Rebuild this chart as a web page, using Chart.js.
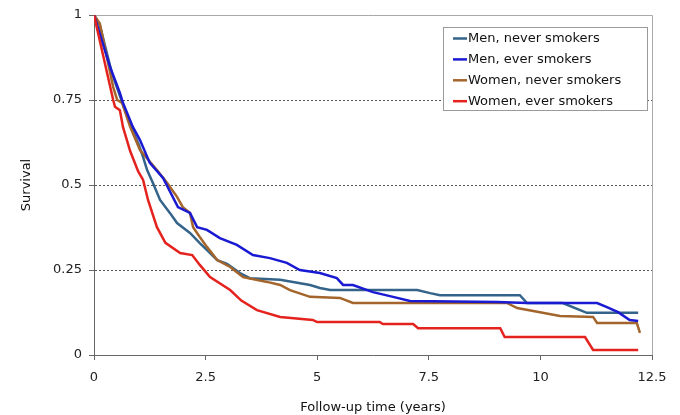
<!DOCTYPE html>
<html>
<head>
<meta charset="utf-8">
<script src="https://cdn.jsdelivr.net/npm/chart.js@4/dist/chart.umd.min.js"></script>
<style>
html,body{margin:0;padding:0;background:#fff;}
canvas{display:block;}
</style>
</head>
<body>
<canvas id="c" width="680" height="415"></canvas>
<script>
// ---- Data ----
const seriesLabels = ["Men, never smokers", "Men, ever smokers", "Women, never smokers", "Women, ever smokers"];
const seriesColors = ["#34648a", "#1a1ad2", "#a4652c", "#e4221e"];

const menNeverX = [0, 0.13, 0.4, 0.6, 0.85, 1.0, 1.10, 1.19, 1.32, 1.48, 1.70, 1.86, 2.15, 2.37, 2.6, 2.76, 2.98, 3.27, 3.49, 4.17, 4.84, 5.06, 5.29, 7.24, 7.53, 7.75, 9.54, 9.7, 10.5, 10.89, 11.04, 12.19];
const menNeverY = [1, 0.97, 0.83, 0.755, 0.665, 0.62, 0.582, 0.544, 0.506, 0.456, 0.418, 0.388, 0.359, 0.329, 0.30, 0.279, 0.268, 0.241, 0.226, 0.221, 0.206, 0.197, 0.191, 0.191, 0.182, 0.176, 0.176, 0.153, 0.153, 0.132, 0.124, 0.124];

const menEverX = [0, 0.36, 0.58, 0.65, 0.87, 1.03, 1.25, 1.55, 1.88, 2.15, 2.31, 2.53, 2.82, 3.2, 3.56, 3.94, 4.32, 4.61, 5.06, 5.44, 5.58, 5.8, 6.25, 6.7, 7.08, 9.03, 9.7, 11.27, 11.49, 11.74, 12.0, 12.19];
const menEverY = [1, 0.847, 0.771, 0.741, 0.671, 0.632, 0.565, 0.52, 0.435, 0.418, 0.376, 0.368, 0.344, 0.324, 0.294, 0.285, 0.271, 0.25, 0.241, 0.226, 0.206, 0.206, 0.185, 0.171, 0.159, 0.156, 0.153, 0.153, 0.141, 0.126, 0.103, 0.10];

const womenNeverX = [0, 0.13, 0.43, 0.52, 0.63, 0.81, 1.03, 1.41, 1.64, 1.86, 1.99, 2.15, 2.22, 2.37, 2.53, 2.76, 3.05, 3.34, 3.88, 4.17, 4.39, 4.84, 5.51, 5.8, 9.25, 9.48, 10.44, 11.18, 11.27, 12.16, 12.23];
const womenNeverY = [1, 0.975, 0.788, 0.75, 0.741, 0.671, 0.603, 0.544, 0.506, 0.465, 0.435, 0.418, 0.376, 0.347, 0.318, 0.279, 0.259, 0.229, 0.215, 0.206, 0.191, 0.171, 0.168, 0.153, 0.153, 0.138, 0.115, 0.112, 0.094, 0.094, 0.065];

const womenEverX = [0, 0.43, 0.47, 0.58, 0.65, 0.81, 0.99, 1.10, 1.21, 1.41, 1.6, 1.93, 2.2, 2.37, 2.6, 3.05, 3.3, 3.65, 4.17, 4.9, 5.0, 6.4, 6.47, 7.15, 7.26, 9.1, 9.2, 11.0, 11.18, 12.19];
const womenEverY = [1, 0.75, 0.73, 0.72, 0.67, 0.60, 0.54, 0.515, 0.456, 0.376, 0.33, 0.30, 0.294, 0.265, 0.229, 0.191, 0.16, 0.132, 0.112, 0.103, 0.097, 0.097, 0.091, 0.091, 0.079, 0.079, 0.053, 0.053, 0.015, 0.015];

const xTickLabels = ["0", "2.5", "5", "7.5", "10", "12.5"];
const yTickLabels = ["0", "0.25", "0.5", "0.75", "1"];
const xTickStep = 2.5, yTickStep = 0.25;

// ---- Build datasets ----
function pts(xs, ys){ return xs.map((x,i)=>({x:x, y:ys[i]})); }
const allX = [menNeverX, menEverX, womenNeverX, womenEverX];
const allY = [menNeverY, menEverY, womenNeverY, womenEverY];
const drawOrder = [3, 1, 2, 0];
const datasets = seriesLabels.map((lab,i)=>({
  label: lab,
  data: pts(allX[i], allY[i]),
  borderColor: seriesColors[i],
  backgroundColor: seriesColors[i],
  borderWidth: 2.5,
  pointRadius: 0,
  tension: 0,
  fill: false,
  order: drawOrder[i]
}));

const FONT = "'DejaVu Sans', 'Liberation Sans', Arial, sans-serif";

const framePlugin = {
  id: 'frame',
  beforeDatasetsDraw(chart){
    const {ctx, chartArea:a} = chart;
    ctx.save();
    ctx.strokeStyle = '#a8a8a8';
    ctx.lineWidth = 1;
    ctx.beginPath();
    ctx.moveTo(a.left, a.top + 0.5);
    ctx.lineTo(a.right + 0.5, a.top + 0.5);
    ctx.lineTo(a.right + 0.5, a.bottom);
    ctx.stroke();
    ctx.restore();
  }
};

const legendPlugin = {
  id: 'customLegend',
  afterDraw(chart){
    const ctx = chart.ctx;
    const bx = 443.5, by = 27.5, bw = 204, bh = 83;
    ctx.save();
    ctx.fillStyle = '#fff';
    ctx.fillRect(bx, by, bw, bh);
    ctx.strokeStyle = '#9a9a9a';
    ctx.lineWidth = 1;
    ctx.strokeRect(bx, by, bw, bh);
    ctx.font = '13px ' + FONT;
    ctx.textBaseline = 'middle';
    ctx.textAlign = 'left';
    chart.data.datasets.forEach((ds, i)=>{
      const y = 38.5 + i * 20.9;
      ctx.strokeStyle = ds.borderColor;
      ctx.lineWidth = 2.5;
      ctx.beginPath();
      ctx.moveTo(453, y);
      ctx.lineTo(467, y);
      ctx.stroke();
      ctx.fillStyle = '#111';
      ctx.fillText(ds.label, 468, y + 0.5);
    });
    ctx.restore();
  }
};

new Chart(document.getElementById('c'), {
  type: 'line',
  data: { datasets: datasets },
  options: {
    responsive: false,
    animation: false,
    layout: { padding: { left: 0, right: 28, top: 15, bottom: 0 } },
    plugins: { legend: { display: false }, tooltip: { enabled: false } },
    scales: {
      x: {
        type: 'linear',
        min: 0, max: 12.5,
        afterFit(s){ s.height = 60; },
        ticks: {
          stepSize: xTickStep,
          padding: 10,
          color: '#222',
          font: { family: FONT, size: 13 },
          maxRotation: 0,
          callback(v){ const i = Math.round(v / xTickStep); return xTickLabels[i] ?? ''; }
        },
        grid: { drawOnChartArea: false, drawTicks: true, tickLength: 5, tickColor: '#666' },
        border: { display: true, color: '#666', width: 1 },
        title: { display: true, text: 'Follow-up time (years)', color: '#111', font: { family: FONT, size: 13 }, padding: { top: 0, bottom: 0 } }
      },
      y: {
        type: 'linear',
        min: 0, max: 1,
        afterFit(s){ s.width = 94; },
        ticks: {
          stepSize: yTickStep,
          padding: 7,
          color: '#222',
          font: { family: FONT, size: 13 },
          callback(v){ const i = Math.round(v / yTickStep); return yTickLabels[i] ?? ''; }
        },
        grid: {
          drawTicks: true,
          tickLength: 5,
          tickColor: '#666',
          tickBorderDash: [],
          color(ctx){ const v = ctx.tick ? ctx.tick.value : -1; return (v > 0.01 && v < 0.99) ? '#555' : 'rgba(0,0,0,0)'; },
          lineWidth: 1
        },
        border: { display: true, color: '#666', width: 1, dash: [2, 2] },
        title: { display: true, text: 'Survival', color: '#111', font: { family: FONT, size: 13 }, padding: { top: 19, bottom: 0 } }
      }
    }
  },
  plugins: [framePlugin, legendPlugin]
});
</script>
</body>
</html>
